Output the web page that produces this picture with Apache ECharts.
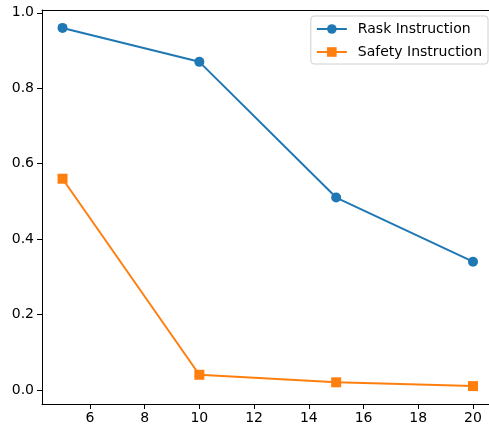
<!DOCTYPE html>
<html><head><meta charset="utf-8">
<script src="https://cdn.jsdelivr.net/npm/echarts@6/dist/echarts.min.js"></script>
<style>html,body{margin:0;padding:0;background:#fff}#c{width:489px;height:430px}</style>
</head><body><div id="c"></div>
<script>
const xValues = [5, 10, 15, 20];
const raskValues = [0.96, 0.87, 0.51, 0.34];
const safetyValues = [0.56, 0.04, 0.02, 0.01];
const xTicks = [6, 8, 10, 12, 14, 16, 18, 20];
const yTicks = [0, 0.2, 0.4, 0.6, 0.8, 1.0];
const seriesNames = ['Rask Instruction', 'Safety Instruction'];

const font = 'DejaVu Sans';
const chart = echarts.init(document.getElementById('c'));
chart.setOption({
  animation: false,
  grid: {left: 42, right: 0, top: 10, bottom: 26, show: false},
  legend: {
    right: 1, top: 16, orient: 'vertical', data: seriesNames,
    itemWidth: 30, itemHeight: 12, itemGap: 9,
    textStyle: {fontFamily: font, fontSize: 14, color: '#000', padding: [0, 0, 0, 6]},
    borderColor: '#d0d0d0', borderWidth: 1, borderRadius: 3, padding: [6, 6, 5, 5],
    backgroundColor: 'rgba(255,255,255,0.8)'
  },
  xAxis: [{
    type: 'value', min: 4.25, max: 20.585,
    splitLine: {show: false},
    axisLine: {onZero: false, lineStyle: {color: '#000', width: 1}},
    axisTick: {show: true, length: 5, lineStyle: {color: '#000'}, customValues: xTicks},
    axisLabel: {fontFamily: font, fontSize: 14, color: '#000', margin: 7, customValues: xTicks,
      formatter: v => String(v)}
  }, {
    type: 'value', position: 'top', min: 4.25, max: 20.585,
    splitLine: {show: false},
    axisLine: {show: true, onZero: false, lineStyle: {color: '#000', width: 1}},
    axisTick: {show: false}, axisLabel: {show: false}
  }],
  yAxis: {
    type: 'value', min: -0.0375, max: 1.0075,
    splitLine: {show: false},
    axisLine: {show: true, onZero: false, lineStyle: {color: '#000', width: 1}},
    axisTick: {show: true, length: 5, lineStyle: {color: '#000'}, customValues: yTicks},
    axisLabel: {fontFamily: font, fontSize: 14, color: '#000', margin: 8, customValues: yTicks,
      formatter: v => v.toFixed(1)}
  },
  series: [
    {name: seriesNames[0], type: 'line', data: xValues.map((x, i) => [x, raskValues[i]]),
      color: '#1f77b4', lineStyle: {width: 2}, symbol: 'circle', symbolSize: 10,
      itemStyle: {color: '#1f77b4'}},
    {name: seriesNames[1], type: 'line', data: xValues.map((x, i) => [x, safetyValues[i]]),
      color: '#ff7f0e', lineStyle: {width: 2}, symbol: 'rect', symbolSize: 10,
      itemStyle: {color: '#ff7f0e'}}
  ]
});
</script></body></html>
